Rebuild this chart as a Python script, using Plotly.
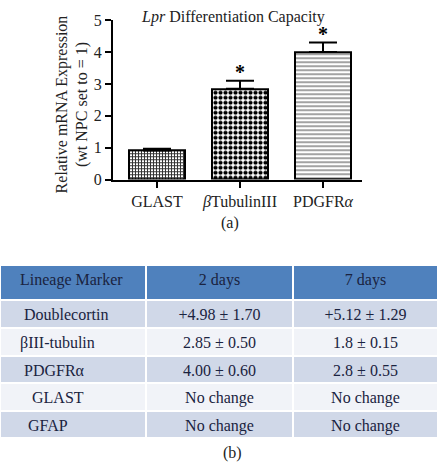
import plotly.graph_objects as go

W, H = 446, 472

# ---- data ----
categories = ["GLAST", "<i>β</i>TubulinIII", "PDGFR<i>α</i>"]
values = [0.91, 2.85, 4.00]
errors = [0.06, 0.25, 0.30]
significant = [False, True, True]

table_header = ["Lineage Marker", "2 days", "7 days"]
markers = ["Doublecortin", "βIII-tubulin", "PDGFRα", "GLAST", "GFAP"]
day2 = ["+4.98 ± 1.70", "2.85 ± 0.50", "4.00 ± 0.60", "No change", "No change"]
day7 = ["+5.12 ± 1.29", "1.8 ± 0.15", "2.8 ± 0.55", "No change", "No change"]

FONT = "Liberation Serif"
NB = "\u00a0"
indent = [4, 3, 4, 6, 5]

fig = go.Figure()

patterns = [
    dict(shape="+", size=3, solidity=0.55, fgcolor="#333333", bgcolor="white", fillmode="replace"),
    dict(shape=".", size=5, solidity=0.55, fgcolor="black", bgcolor="white", fillmode="replace"),
    dict(shape="-", size=4, solidity=0.45, fgcolor="#999999", bgcolor="white", fillmode="replace"),
]

for i, (c, v, e) in enumerate(zip(categories, values, errors)):
    fig.add_trace(go.Bar(
        x=[i], y=[v], width=0.675,
        marker=dict(color="white", line=dict(color="black", width=2), pattern=patterns[i]),
        error_y=dict(type="data", array=[e], arrayminus=[0], symmetric=False,
                     color="black", thickness=2, width=14),
        showlegend=False, hoverinfo="skip",
    ))

star_x = [i for i, s in enumerate(significant) if s]
star_y = [values[i] + errors[i] + 0.2 for i in star_x]
fig.add_trace(go.Scatter(
    x=star_x, y=star_y, mode="text", text=["<b>*</b>"] * len(star_x),
    textfont=dict(family=FONT, size=20, color="black"),
    showlegend=False, hoverinfo="skip",
))

x0, x1 = 113 / W, 362 / W
y_top, y_bot = 12.7, 178
fig.update_layout(
    width=W, height=H,
    margin=dict(l=0, r=0, t=0, b=0),
    paper_bgcolor="white", plot_bgcolor="white",
    font=dict(family=FONT, size=16, color="black"),
    xaxis=dict(domain=[x0, x1], range=[-0.53, 2.47],
               tickmode="array", tickvals=[0, 1, 2], ticktext=categories,
               showline=True, linecolor="black", linewidth=2,
               ticks="outside", ticklen=6, tickwidth=2, tickcolor="black",
               showgrid=False, zeroline=False, fixedrange=True,
               tickfont=dict(family=FONT, size=16, color="#222")),
    yaxis=dict(domain=[1 - y_bot / H, 1 - y_top / H], range=[0, 5],
               tickvals=[0, 1, 2, 3, 4, 5],
               showline=True, linecolor="black", linewidth=2,
               ticks="outside", ticklen=6, tickwidth=2, tickcolor="black",
               showgrid=False, zeroline=False, fixedrange=True,
               tickfont=dict(family=FONT, size=16, color="#222")),
    bargap=0,
)

def ann(text, x, y, size, angle=0):
    fig.add_annotation(text=text, x=x / W, y=1 - y / H, xref="paper", yref="paper",
                       xanchor="center", yanchor="middle", showarrow=False,
                       textangle=angle, font=dict(family=FONT, size=size, color="#222"))

ann("<i>Lpr</i> Differentiation Capacity", 233, 9, 16)
ann("Relative mRNA Expression<br>(wt NPC set to = 1)", 72, 100, 16, -90)
ann("(a)", 230, 223, 16)
ann("(b)", 233, 462, 16)

row_fills = ["#d0d8e8", "#f1f3f8", "#d0d8e8", "#f1f3f8", "#d0d8e8"]
col1 = [NB * n + m for n, m in zip(indent, markers)]
fig.add_trace(go.Table(
    domain=dict(x=[0, 438 / W], y=[0, 1 - 267 / H]),
    columnwidth=[146, 147, 145],
    header=dict(values=[NB * 3 + table_header[0], table_header[1], table_header[2]],
                fill_color="#4f81bd", line=dict(color="white", width=2),
                align=["left", "center", "center"], height=35,
                font=dict(family=FONT, size=16, color="#1a2340")),
    cells=dict(values=[col1, day2, day7],
               fill_color=[row_fills] * 3, line=dict(color="white", width=2),
               align=["left", "center", "center"], height=27.6,
               font=dict(family=FONT, size=16, color="#1a2340")),
))

fig.write_html("out.html")
